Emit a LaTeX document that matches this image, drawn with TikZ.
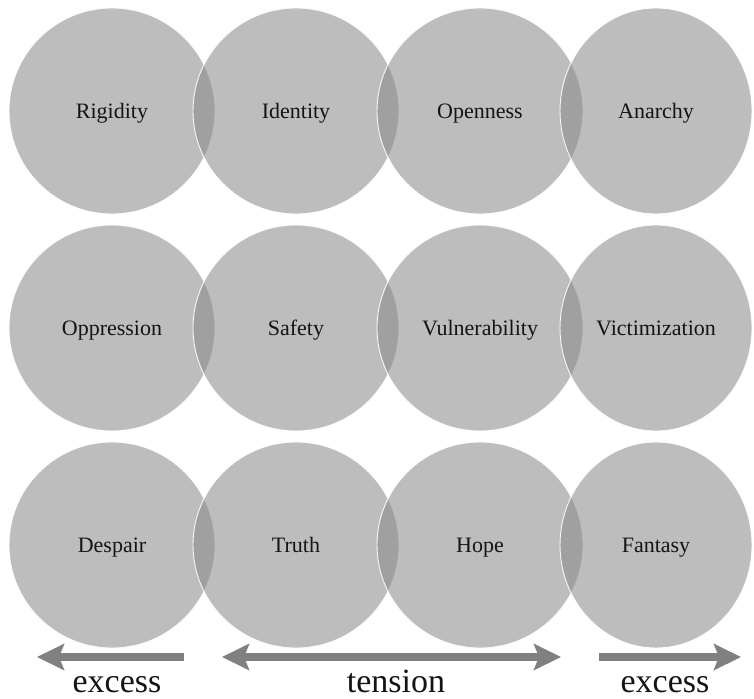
\documentclass[tikz,border=0pt]{standalone}
\usepackage{fontspec}
\setmainfont{Liberation Serif}
\usetikzlibrary{arrows.meta,shapes.geometric}
\definecolor{bubblecol}{gray}{0.54}
\definecolor{arrowcol}{gray}{0.50}
\definecolor{inkcol}{gray}{0.08}
\tikzset{
  bubble/.style={circle, minimum size=206pt, inner sep=0pt, text height=17pt, text depth=3pt, fill=bubblecol, fill opacity=0.56, text opacity=1, draw=white, draw opacity=0.9, line width=0.9pt, text=inkcol, font=\fontsize{22}{26}\selectfont},
  bubbleend/.style={bubble, ellipse, minimum width=192pt, minimum height=206pt},
  fatarrow/.style={draw=arrowcol, line width=8.7pt, -{Stealth[length=27pt, width=26pt, inset=5pt]}},
  fatboth/.style={draw=arrowcol, line width=8.7pt, {Stealth[length=27pt, width=26pt, inset=5pt]}-{Stealth[length=27pt, width=26pt, inset=5pt]}},
  caption/.style={text=inkcol, anchor=base, inner sep=0pt, font=\fontsize{34}{38}\selectfont}
}
\begin{document}
\begin{tikzpicture}[x=1pt,y=-1pt]
\useasboundingbox (0,0) rectangle (754,698);
% row 1
\node[bubble] (a1) at (112,111) {Rigidity};
\node[bubble] (a2) at (296,111) {Identity};
\node[bubble] (a3) at (480,111) {Openness};
\node[bubbleend] (a4) at (656,111) {Anarchy};
% row 2
\node[bubble] (b1) at (112,328) {Oppression};
\node[bubble] (b2) at (296,328) {Safety};
\node[bubble] (b3) at (480,328) {Vulnerability};
\node[bubbleend] (b4) at (656,328) {Victimization};
% row 3
\node[bubble] (c1) at (112,545) {Despair};
\node[bubble] (c2) at (296,545) {Truth};
\node[bubble] (c3) at (480,545) {Hope};
\node[bubbleend] (c4) at (656,545) {Fantasy};
% arrows
\coordinate (l1) at (184,657);
\coordinate (l0) at (37,657);
\coordinate (m0) at (222,657);
\coordinate (m1) at (561,657);
\coordinate (r0) at (599,657);
\coordinate (r1) at (741,657);
\draw[fatarrow] (l1) -- (l0);
\draw[fatboth] (m0) -- (m1);
\draw[fatarrow] (r0) -- (r1);
% captions
\node[caption] (ex1) at (117,692) {excess};
\node[caption] (ten) at (396,692) {tension};
\node[caption] (ex2) at (665,692) {excess};
\end{tikzpicture}
\end{document}
